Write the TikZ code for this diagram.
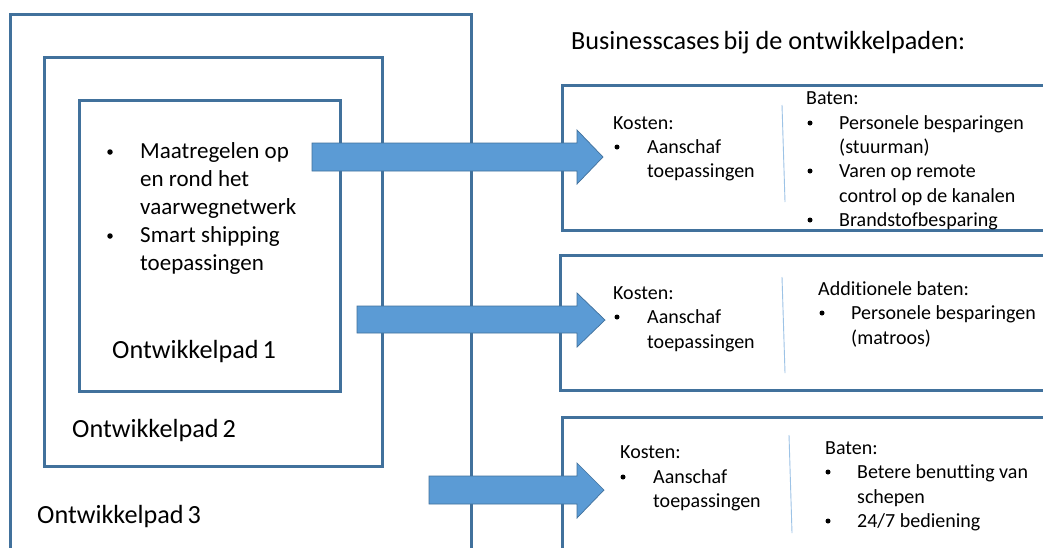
\documentclass[tikz,border=0pt]{standalone}
\usepackage{fontspec}
\setmainfont{Carlito}[Ligatures=NoCommon]
\definecolor{boxblue}{HTML}{41719C}
\definecolor{arrowblue}{HTML}{5B9BD5}
\definecolor{seplight}{HTML}{9DC3E6}
\begin{document}
\begin{tikzpicture}[x=1pt,y=-1pt,
  frame/.style={draw=boxblue, line width=3pt},
  bigarrow/.style={fill=arrowblue, draw=boxblue, line width=0.7pt, line join=miter},
  sep/.style={draw=seplight, line width=0.9pt},
  rt/.style={anchor=mid west, inner sep=0pt, yshift=-5pt, font=\fontsize{20}{24}\selectfont},
  lt/.style={anchor=mid west, inner sep=0pt, yshift=-6pt, font=\fontsize{23}{28}\selectfont},
  big/.style={anchor=mid west, inner sep=0pt, yshift=-7pt, font=\fontsize{26.2}{30}\selectfont},
  bul/.style={circle, fill=black, inner sep=0pt, minimum size=5.5pt},
  sbul/.style={circle, fill=black, inner sep=0pt, minimum size=5pt}]
\useasboundingbox (0,0) rectangle (1043,547);
\clip (0,0) rectangle (1043,547);
\fill[white] (0,0) rectangle (1043,547);

% nested development-path boxes
\draw[frame] (10.5,14) rectangle (471,575);
\draw[frame] (44,57) rectangle (382,466);
\draw[frame] (79,100) rectangle (340,391);

% business case boxes
\draw[frame] (562,85) rectangle (1075,230);
\draw[frame] (560,255) rectangle (1075,390);
\draw[frame] (562,417) rectangle (1075,575);

% separators
\draw[sep] (782,105) -- (785,202);
\draw[sep] (782,277) -- (785,373);
\draw[sep] (789,435) -- (792,533);

% arrows
\draw[bigarrow] (312,143) -- (577,143) -- (577,130) -- (603,157) -- (577,184) -- (577,171) -- (312,171) -- cycle;
\draw[bigarrow] (357,306) -- (577,306) -- (577,293) -- (605,320) -- (577,347) -- (577,333) -- (357,333) -- cycle;
\draw[bigarrow] (429,476) -- (577,476) -- (577,463) -- (604,490) -- (577,518) -- (577,504) -- (429,504) -- cycle;

% left texts
\node[bul] (b1) at (110,152) {};
\node[lt] (m1) at (140,150) {Maatregelen op};
\node[lt] (m2) at (140,178) {en rond het};
\node[lt] (m3) at (140,206) {vaarwegnetwerk};
\node[bul] (b2) at (110,236) {};
\node[lt] (s1) at (140,234) {Smart shipping};
\node[lt] (s2) at (140,262) {toepassingen};
\node[big] (o1) at (112,349) {Ontwikkelpad\hspace{-2pt} 1};
\node[big] (o2) at (72,428) {Ontwikkelpad\hspace{-2pt} 2};
\node[big] (o3) at (37,514) {Ontwikkelpad\hspace{-2pt} 3};

% title
\node[big] (title) at (571,40) {Businesscases\hspace{-2pt} bij de ontwikkelpaden:};

% box 1
\node[rt] (k1) at (613,122) {Kosten:};
\node[sbul] (k1b) at (617,147) {};
\node[rt] (k1a) at (647,146) {Aanschaf};
\node[rt] (k1c) at (647,170) {toepassingen};
\node[rt] (t1) at (806,97) {Baten:};
\node[sbul] (t1b1) at (810,123) {};
\node[rt] (t1a) at (839,122) {Personele besparingen};
\node[rt] (t1c) at (839,146) {(stuurman)};
\node[sbul] (t1b2) at (810,171) {};
\node[rt] (t1d) at (839,170) {Varen op remote};
\node[rt] (t1e) at (839,195) {control op de kanalen};
\node[sbul] (t1b3) at (810,220) {};
\node[rt] (t1f) at (839,219) {Brandstofbesparing};

% box 2
\node[rt] (k2) at (613,292) {Kosten:};
\node[sbul] (k2b) at (617,317) {};
\node[rt] (k2a) at (647,316) {Aanschaf};
\node[rt] (k2c) at (647,341) {toepassingen};
\node[rt] (t2) at (818,288) {Additionele baten:};
\node[sbul] (t2b) at (822,313) {};
\node[rt] (t2a) at (851,312) {Personele besparingen};
\node[rt] (t2c) at (851,337) {(matroos)};

% box 3
\node[rt] (k3) at (620,451) {Kosten:};
\node[sbul] (k3b) at (623,477) {};
\node[rt] (k3a) at (653,476) {Aanschaf};
\node[rt] (k3c) at (653,500) {toepassingen};
\node[rt] (t3) at (825,447) {Baten:};
\node[sbul] (t3b1) at (828,472) {};
\node[rt] (t3a) at (857,471) {Betere benutting van};
\node[rt] (t3c) at (857,496) {schepen};
\node[sbul] (t3b2) at (828,521) {};
\node[rt] (t3d) at (857,520) {24/7 bediening};
\end{tikzpicture}
\end{document}
